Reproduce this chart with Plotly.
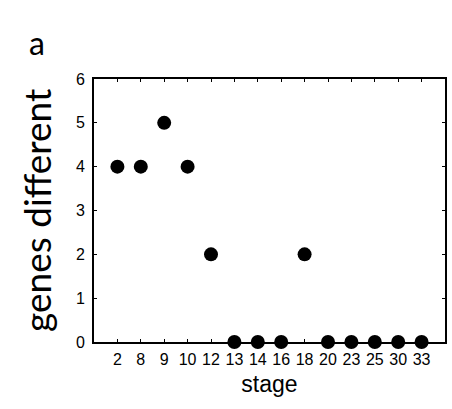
import plotly.graph_objects as go

stages = ["2", "8", "9", "10", "12", "13", "14", "16", "18", "20", "23", "25", "30", "33"]
genes_different = [4, 4, 5, 4, 2, 0, 0, 0, 2, 0, 0, 0, 0, 0]
y_ticks = [0, 1, 2, 3, 4, 5, 6]

x_idx = list(range(len(stages)))

fig = go.Figure()
fig.add_trace(go.Scatter(
    x=x_idx, y=genes_different, mode="markers",
    marker=dict(color="black", size=14),
    cliponaxis=False, showlegend=False,
))

fig.update_layout(
    width=452, height=409,
    margin=dict(l=94, r=5, t=79, b=67),
    paper_bgcolor="white", plot_bgcolor="white",
    font=dict(family="Liberation Sans, Arial", color="black", size=16),
    xaxis=dict(
        range=[-1, len(stages)], tickmode="array", tickvals=x_idx, ticktext=stages,
        ticks="inside", ticklen=3, tickwidth=1, tickcolor="black",
        showline=True, linecolor="black", linewidth=2, mirror="ticks",
        showgrid=False, zeroline=False,
        title=dict(text="stage", font=dict(size=23), standoff=9),
        tickfont=dict(size=16), ticklabelstandoff=2,
    ),
    yaxis=dict(
        range=[0, 6], tickmode="array", tickvals=y_ticks,
        ticks="inside", ticklen=3, tickwidth=1, tickcolor="black",
        showline=True, linecolor="black", linewidth=2, mirror="ticks",
        showgrid=False, zeroline=False,
        tickfont=dict(size=16), ticklabelstandoff=4,
    ),
    annotations=[
        dict(text="genes different", xref="paper", yref="paper",
             x=-0.164, y=0.5, xanchor="center", yanchor="middle",
             textangle=-90, showarrow=False,
             font=dict(family="Lato, Open Sans", size=37, color="black")),
        dict(text="a", xref="paper", yref="paper",
             x=-0.161, y=1.14, xanchor="center", yanchor="middle",
             showarrow=False,
             font=dict(family="Lato, Open Sans", size=32, color="black")),
    ],
)

fig.write_html("out.html")
